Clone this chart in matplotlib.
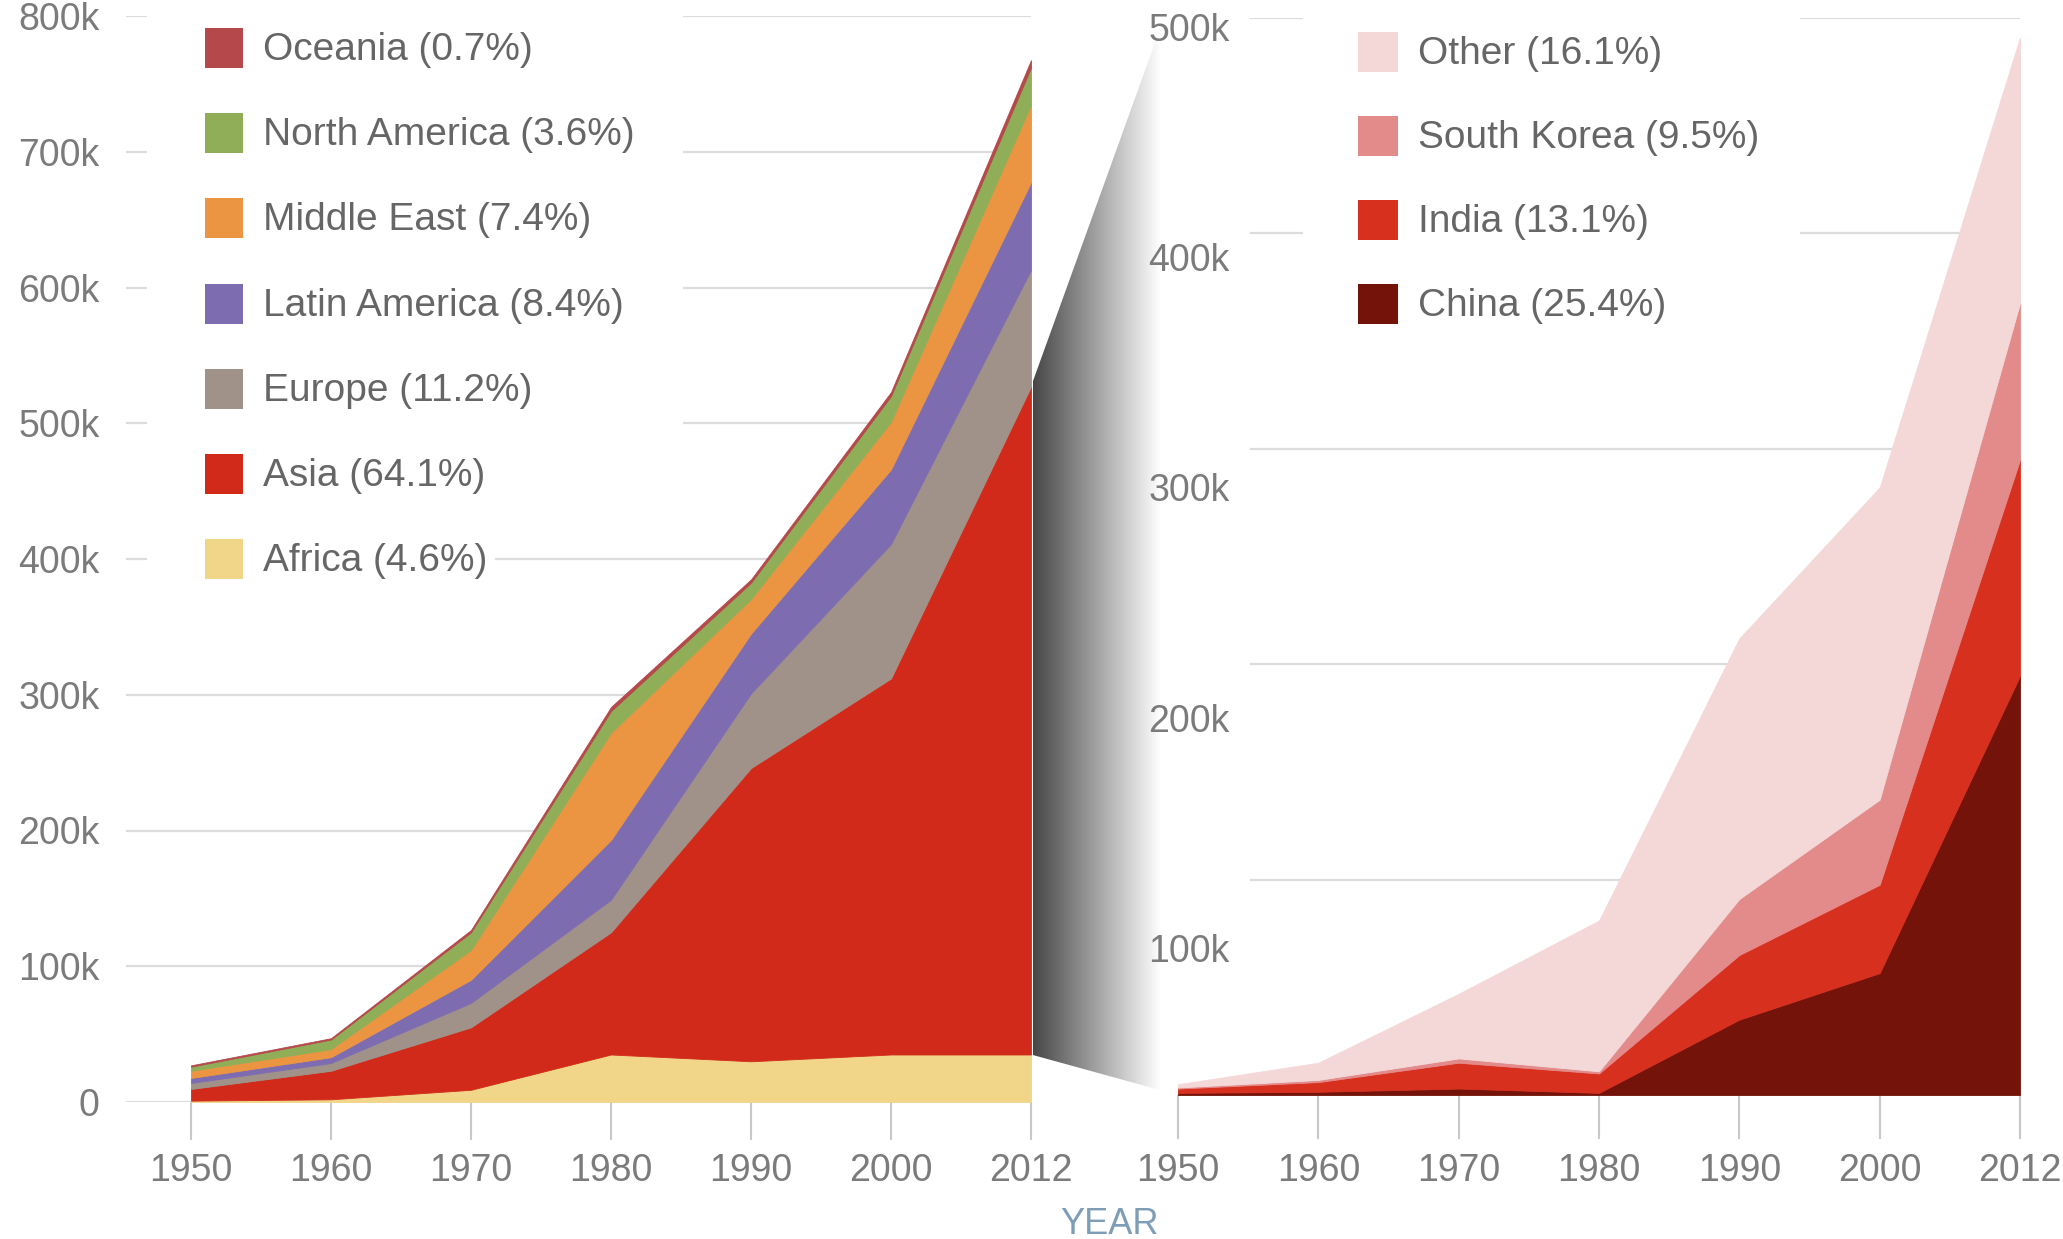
import numpy as np
import matplotlib
matplotlib.use('Agg')
import matplotlib.pyplot as plt
from matplotlib.colors import LinearSegmentedColormap
from matplotlib.patches import Rectangle, Polygon

plt.rcParams['font.family'] = ['Liberation Sans', 'DejaVu Sans']

years = ['1950', '1960', '1970', '1980', '1990', '2000', '2012']

# world regions, thousands, stacked bottom -> top
africa = [1, 2, 9, 35, 30, 35, 35]
asia = [8.6, 21, 46, 90, 216, 277, 492]
europe = [4.4, 5.7, 18, 24, 55, 99, 86]
latin_america = [3.7, 4.3, 17, 44, 44, 55, 64.5]
middle_east = [5.3, 6, 22, 79, 25.5, 35, 57]
north_america = [3, 7, 13, 16, 12, 19, 27.5]
oceania = [1, 1, 1.7, 3, 2.5, 3, 5.5]

region_names = ['Africa', 'Asia', 'Europe', 'Latin America', 'Middle East',
                'North America', 'Oceania']
region_shares = ['4.6', '64.1', '11.2', '8.4', '7.4', '3.6', '0.7']
region_colors = ['#f1d588', '#d12a1a', '#a09289', '#7d6caf', '#eb9442',
                 '#8fae57', '#b4484b']

# Asia split by country, thousands, stacked bottom -> top
china = [1, 1.5, 3, 1, 35, 56.6, 194.6]
india = [2, 4.5, 12, 9, 30, 41, 100.3]
south_korea = [0.5, 1, 2, 1, 26, 39.5, 72.8]
other_asia = [1.5, 8, 30, 70, 121, 145, 123.3]

country_names = ['China', 'India', 'South Korea', 'Other']
country_shares = ['25.4', '13.1', '9.5', '16.1']
country_colors = ['#741309', '#d7301f', '#e38b8b', '#f4d8d8']

W, H = 2063, 1239
fig = plt.figure(figsize=(W / 100, H / 100), dpi=100)


def px_box(x0, y0, x1, y1):
    # pixel box measured from the top-left corner -> figure fraction
    return [x0 / W, 1 - y1 / H, (x1 - x0) / W, (y1 - y0) / H]


tick_grey = '#7b7b7b'
grid_grey = '#dcdcdc'
x = np.arange(len(years))


def style(ax, tick_len):
    ax.set_facecolor('none')
    for s in ax.spines.values():
        s.set_visible(False)
    ax.set_xticks(x)
    ax.set_xticklabels(years)
    ax.tick_params(axis='x', length=tick_len, width=1.5, color='#c8c8c8',
                   pad=10, labelsize=27, labelcolor=tick_grey)
    ax.tick_params(axis='y', length=0, labelsize=27, labelcolor=tick_grey)


# left: all regions
ax_l = fig.add_axes(px_box(126, 16, 1031, 1102))
style(ax_l, 27)
ax_l.set_xlim(-0.4643, 6)
ax_l.set_ylim(0, 800)
left_ticks = list(range(0, 900, 100))
ax_l.set_yticks(left_ticks)
ax_l.set_yticklabels(['0' if v == 0 else f'{v}k' for v in left_ticks])
ax_l.tick_params(axis='y', pad=19)
for v in left_ticks:
    ax_l.axhline(v, color=grid_grey, lw=1.6, zorder=1)
ax_l.stackplot(x, africa, asia, europe, latin_america, middle_east,
               north_america, oceania, colors=region_colors,
               edgecolor='face', linewidth=0.6, zorder=2)

# right: Asia by country
ax_r = fig.add_axes(px_box(1178, 18, 2020, 1095))
style(ax_r, 32)
ax_r.set_xlim(0, 6)
ax_r.set_ylim(0, 500)
ax_r.set_yticks([])
right_ticks = list(range(100, 600, 100))
for v in right_ticks:
    ax_r.axhline(v, xmin=0.0867, color=grid_grey, lw=1.6, zorder=1)
ax_r.stackplot(x, china, india, south_korea, other_asia, colors=country_colors,
               edgecolor='face', linewidth=0.6, zorder=2)

# the right-hand tick labels run on their own, slightly looser spacing
ax_lab = ax_r.twinx()
ax_lab.set_ylim(36, 504)
ax_lab.yaxis.tick_left()
ax_lab.set_yticks(right_ticks)
ax_lab.set_yticklabels([f'{v}k' for v in right_ticks])
ax_lab.tick_params(axis='y', length=0, pad=-37, labelsize=27,
                   labelcolor=tick_grey)
for s in ax_lab.spines.values():
    s.set_visible(False)

# grey "zoom" wedge from the Asia band into the right panel
ax_g = fig.add_axes([0, 0, 1, 1], zorder=-1)
ax_g.axis('off')
asia_top = ax_l.transData.transform((6, africa[-1] + asia[-1]))
asia_bot = ax_l.transData.transform((6, africa[-1]))
zoom_top = ax_r.transData.transform((-0.1, 500))
zoom_bot = ax_r.transData.transform((0, 0))
wedge = Polygon([asia_top, zoom_top, zoom_bot, asia_bot], closed=True,
                fc='none', ec='none', transform=ax_g.transData)
ax_g.add_patch(wedge)
fade = LinearSegmentedColormap.from_list('fade', ['#474747', '#ffffff'])
x0 = asia_top[0] + 2
grad = ax_g.imshow(np.linspace(0, 1, 256)[None, :], cmap=fade, aspect='auto',
                   extent=(x0, x0 + 128, 0, H), interpolation='bilinear')
grad.set_clip_path(wedge)
ax_g.set_xlim(0, W)
ax_g.set_ylim(0, H)

# keys and the axis title, laid out in pixels from the top-left
ax_top = fig.add_axes([0, 0, 1, 1], zorder=5)
ax_top.axis('off')
ax_top.set_xlim(0, W)
ax_top.set_ylim(H, 0)

key_text = '#666666'
ax_top.add_patch(Rectangle((147, 0), 536, 530, fc='white', ec='none'))
ax_top.add_patch(Rectangle((147, 530), 348, 62, fc='white', ec='none'))
for i, k in enumerate(reversed(range(len(region_names)))):
    yc = 48 + i * 85.2
    ax_top.add_patch(Rectangle((205, yc - 20), 38, 40, fc=region_colors[k],
                               ec='none'))
    ax_top.text(263, yc + 2, f'{region_names[k]} ({region_shares[k]}%)',
                va='center', ha='left', fontsize=28, color=key_text)

ax_top.add_patch(Rectangle((1303, 0), 497, 345, fc='white', ec='none'))
for i, k in enumerate(reversed(range(len(country_names)))):
    yc = 52 + i * 84
    ax_top.add_patch(Rectangle((1358, yc - 20), 40, 40, fc=country_colors[k],
                               ec='none'))
    ax_top.text(1418, yc + 2, f'{country_names[k]} ({country_shares[k]}%)',
                va='center', ha='left', fontsize=28, color=key_text)

ax_top.text(1109, 1224, 'YEAR', ha='center', va='center', fontsize=26,
            color='#7e9db6')

fig.savefig('out.png', dpi=100, facecolor='white')
